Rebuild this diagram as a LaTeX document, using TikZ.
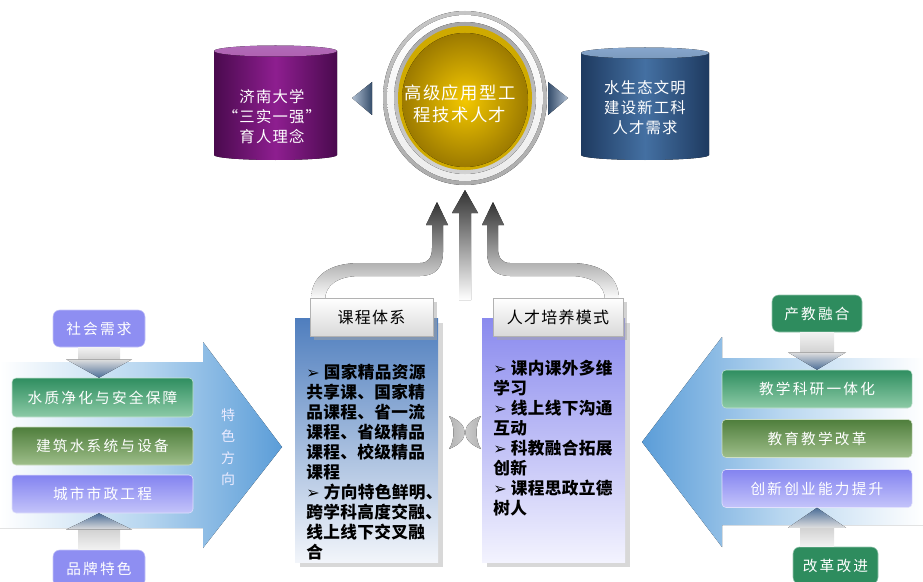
\documentclass[tikz,border=0pt]{standalone}
\usepackage{fontspec}
\usepackage{tikz}
\usetikzlibrary{calc,shadows}
\newfontfamily\hei{Noto Sans CJK SC}[LetterSpace=15]
\newfontfamily\heic{Noto Sans CJK SC}[LetterSpace=8]
\newfontfamily\heit{Noto Sans CJK SC}[LetterSpace=2]
\newfontfamily\symb{DejaVu Sans}
\newcommand\jt{{\symb\fontsize{12}{12}\selectfont ➢}}
\definecolor{purpD}{HTML}{4A0A4E}
\definecolor{purpM}{HTML}{8E1E90}
\definecolor{purpT}{HTML}{B06AB8}
\definecolor{blueD}{HTML}{1E3A60}
\definecolor{blueM}{HTML}{4470A2}
\definecolor{blueT}{HTML}{86A6CC}
\definecolor{goldD}{HTML}{9C7A00}
\definecolor{goldM}{HTML}{F4C800}
\definecolor{steel}{HTML}{4C6E98}
\definecolor{sky}{HTML}{5B9DD8}
\definecolor{skyL}{HTML}{B9D7F0}
\definecolor{greenT}{HTML}{2F8E60}
\definecolor{greenB}{HTML}{8CCAA6}
\definecolor{oliveT}{HTML}{4F7E3C}
\definecolor{oliveB}{HTML}{9EBE8A}
\definecolor{lavT}{HTML}{8383F0}
\definecolor{lavB}{HTML}{C4C4FA}
\definecolor{tagL}{HTML}{8E8EF2}
\definecolor{tagG}{HTML}{2E8C5E}
\definecolor{kcTop}{HTML}{4F7EBE}
\definecolor{kcBot}{HTML}{F2F5FA}
\definecolor{rcTop}{HTML}{8A8AEE}
\definecolor{rcBot}{HTML}{F3F3FE}

\begin{document}
\begin{tikzpicture}[x=0.75pt,y=-0.75pt,
  sidebox/.style={rounded corners=3pt, inner sep=0pt, text=white, font=\hei\fontsize{11}{14}\selectfont},
  greenbox/.style={sidebox, draw=greenB!50!white, top color=greenT, bottom color=greenB},
  olivebox/.style={sidebox, draw=oliveB!50!white, top color=oliveT, bottom color=oliveB},
  lavbox/.style={sidebox, draw=lavB!50!white, top color=lavT, bottom color=lavB},
  tagbox/.style={sidebox, rounded corners=5pt, minimum height=27.75pt},
  headbox/.style={draw=gray!60, top color=white, bottom color=gray!30, minimum height=28.5pt, inner sep=0pt,
    font=\heic\fontsize{12}{14}\selectfont, drop shadow={shadow xshift=3pt, shadow yshift=-3pt, fill=gray!70}},
  bodybox/.style={inner sep=0pt, minimum width=107.25pt, minimum height=183pt,
    drop shadow={shadow xshift=4pt, shadow yshift=-4pt, fill=gray!60}},
  bodytext/.style={anchor=north west, align=left, inner sep=0pt, font=\heit\bfseries\fontsize{12.5}{15}\selectfont},
  cyltext/.style={align=center, text=white, font=\heic\fontsize{11.5}{15}\selectfont},
  grayarr/.style={top color=black!80, bottom color=white}]
\clip (0,0) rectangle (923,581);

\fill[left color=white, right color=sky, middle color=skyL] (0,362) -- (203,362) -- (203,342) -- (282,447) -- (203,548) -- (203,528) -- (0,528) -- cycle;
\fill[left color=sky, right color=white, middle color=skyL] (923,358) -- (722,358) -- (722,337) -- (642,442) -- (722,547) -- (722,525) -- (923,525) -- cycle;

\fill[left color=purpD, right color=purpD, middle color=purpM] (214,51) -- (214,155) arc[start angle=180, end angle=0, x radius=61.5, y radius=5] -- (337,51) -- cycle;
\fill[top color=purpT, bottom color=purpM!70!white] (275.5,51) ellipse [x radius=61.5, y radius=5.5];
\fill[left color=blueD, right color=blueD, middle color=blueM] (581,53) -- (581,155) arc[start angle=180, end angle=0, x radius=64, y radius=5] -- (709,53) -- cycle;
\fill[top color=blueT, bottom color=blueM!70!white] (645,53) ellipse [x radius=64, y radius=5.5];
\node[cyltext] (linian) at (272,117) {济南大学\\“三实一强”\\育人理念};
\node[cyltext] (xuqiu) at (645,108) {水生态文明\\建设新工科\\人才需求};

\fill[left color=steel!45!white, right color=steel!70!black] (352,98) -- (372,82) -- (372,115) -- cycle;
\fill[left color=steel!70!black, right color=steel!45!white] (548,82) -- (568,98) -- (548,115) -- cycle;

\fill[top color=gray!45, bottom color=gray!65] (465,98) ellipse [x radius=82, y radius=87];
\fill[top color=white, bottom color=gray!15] (465,98) ellipse [x radius=78, y radius=83];
\fill[top color=gray!70, bottom color=gray!35] (465,98) ellipse [x radius=71, y radius=76];
\fill[goldM!85!black] (465,98) ellipse [x radius=67, y radius=72];
\fill[inner color=goldM, outer color=goldD] (465,100) ellipse [x radius=63, y radius=67];
\node[align=center, text=white, font=\heic\fontsize{13}{16.5}\selectfont] (mubiao) at (460,104) {高级应用型工\\程技术人才};

\fill[grayarr] (311,300) .. controls (311,275) and (330,263) .. (360,263) -- (420,263) .. controls (428,263) and (432,258) .. (432,248)
  -- (432,225) -- (426,225) -- (437,202) -- (448,225) -- (443,225) -- (443,252) .. controls (443,268) and (435,276) .. (420,276)
  -- (360,276) .. controls (338,276) and (325,285) .. (325,300) -- cycle;
\fill[grayarr] (619,300) .. controls (619,275) and (600,263) .. (570,263) -- (510,263) .. controls (502,263) and (498,258) .. (498,248)
  -- (498,225) -- (504,225) -- (493,202) -- (482,225) -- (487,225) -- (487,252) .. controls (487,268) and (495,276) .. (510,276)
  -- (570,276) .. controls (592,276) and (605,285) .. (605,300) -- cycle;
\fill[grayarr] (459,300) -- (459,213) -- (452,213) -- (465,190) -- (478,213) -- (471,213) -- (471,300) -- cycle;

\node[bodybox, top color=kcTop, bottom color=kcBot] (kc) at (366.5,440) {};
\node[bodybox, top color=rcTop, bottom color=rcBot] (rc) at (553.5,440) {};
\node[headbox, minimum width=92.25pt] (kchead) at (371.5,317) {课程体系};
\node[headbox, minimum width=97.5pt] (rchead) at (558,317) {人才培养模式};
\node[bodytext] (kctext) at (306,364) {\jt\ 国家精品资源\\共享课、国家精\\品课程、省一流\\课程、省级精品\\课程、校级精品\\课程\\
  \jt\ 方向特色鲜明、\\跨学科高度交融、\\线上线下交叉融\\合};
\node[bodytext] (rctext) at (493,360) {\jt\ 课内课外多维\\学习\\\jt\ 线上线下沟通\\互动\\\jt\ 科教融合拓展\\创新\\\jt\ 课程思政立德\\树人};
\fill[left color=gray!60, right color=gray!35] (449,416) .. controls (470,424) and (470,441) .. (449,449) .. controls (455,440) and (455,425) .. (449,416) -- cycle;
\fill[left color=gray!35, right color=gray!60] (481,416) .. controls (460,424) and (460,441) .. (481,449) .. controls (475,440) and (475,425) .. (481,416) -- cycle;

\node[tagbox, draw=tagL!50!white, fill=tagL, minimum width=69pt] (shehui) at (99,328.5) {社会需求};
\node[greenbox, minimum width=135.75pt, minimum height=29.25pt] (szjh) at (102.5,397.5) {水质净化与安全保障};
\node[olivebox, minimum width=135.75pt, minimum height=28.5pt] (jzs) at (102.5,446) {建筑水系统与设备};
\node[lavbox, minimum width=135.75pt, minimum height=28.5pt] (cszg) at (102.5,494) {城市市政工程};
\node[tagbox, draw=tagL!50!white, fill=tagL, minimum width=69pt] (pinpai) at (99,568.5) {品牌特色};
\node[align=center, text=white!92!blue, font=\heit\fontsize{10.5}{16}\selectfont] (tsfx) at (228,447) {特\\色\\方\\向};
\fill[top color=gray!10, bottom color=gray!35] ($(shehui.south)+(-21,0)$) rectangle ($(shehui.south)+(21,12)$);
\fill[top color=gray!25, bottom color=steel] ($(shehui.south)+(-33,12)$) -- ($(shehui.south)+(33,12)$) -- (shehui.south |- szjh.north) -- cycle;
\fill[top color=gray!35, bottom color=gray!10] ($(pinpai.north)+(-21,-20)$) rectangle ($(pinpai.north)+(21,0)$);
\fill[top color=steel, bottom color=gray!25] (pinpai.north |- cszg.south) -- ($(pinpai.north)+(33,-20)$) -- ($(pinpai.north)+(-33,-20)$) -- cycle;

\node[tagbox, draw=tagG!50!white, fill=tagG, minimum width=67.5pt] (cjrh) at (817,313.5) {产教融合};
\node[greenbox, minimum width=142.5pt, minimum height=28.5pt] (jxky) at (817,389) {教学科研一体化};
\node[olivebox, minimum width=142.5pt, minimum height=28.5pt] (jyjx) at (817,438.5) {教育教学改革};
\node[lavbox, minimum width=142.5pt, minimum height=28.5pt] (cxcy) at (817,488.5) {创新创业能力提升};
\node[tagbox, draw=tagG!50!white, fill=tagG, minimum width=63.75pt] (gggj) at (835.5,565.5) {改革改进};
\fill[top color=gray!10, bottom color=gray!35] ($(cjrh.south)+(-17,0)$) rectangle ($(cjrh.south)+(17,20)$);
\fill[top color=gray!25, bottom color=steel] ($(cjrh.south)+(-29,20)$) -- ($(cjrh.south)+(29,20)$) -- (cjrh.south |- jxky.north) -- cycle;
\fill[top color=gray!35, bottom color=gray!10] ($(cxcy.south)+(-17,20)$) rectangle ($(cxcy.south |- gggj.north)+(17,0)$);
\fill[top color=steel, bottom color=gray!25] (cxcy.south) -- ($(cxcy.south)+(29,20)$) -- ($(cxcy.south)+(-29,20)$) -- cycle;
\end{tikzpicture}
\end{document}
